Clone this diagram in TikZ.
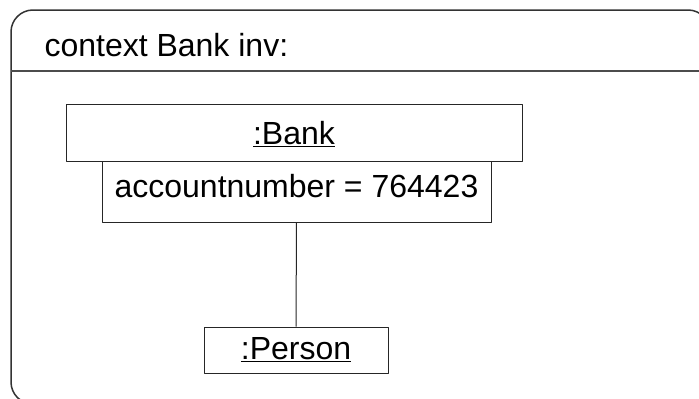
\documentclass[tikz,border=0pt]{standalone}
\usepackage{fontspec}
\setmainfont{Liberation Sans}
\begin{document}
\begin{tikzpicture}[x=1pt, y=-1pt, line join=round,
    every node/.style={font=\fontsize{32}{38}\selectfont},
    obj/.style={draw=black!85, line width=1pt, inner sep=0pt, text height=23pt}]
    \useasboundingbox (0,0) rectangle (699,399);
    \clip (0,0) rectangle (699,399);

    % frame of the constraint, it runs on past the page edge
    \draw [black!80, line width=1.5pt, rounded corners=22pt] (11,10) rectangle (710,404);
    \draw [black!70, line width=2pt] (11,71) -- (699,71);
    \node [anchor=base west] (Context) at (41,56) {context Bank inv:};

    \node [obj, text depth=0pt, minimum width=456pt, minimum height=57pt] (Bank) at (294,132.5) {\underline{:Bank}};
    \node [obj, text depth=12pt, minimum width=389pt, minimum height=61pt] (AccountNumber) at (296.5,191.5) {accountnumber = 764423};
    \node [obj, text depth=5pt, minimum width=184pt, minimum height=46pt] (Person) at (296,350) {\underline{:Person}};

    \path [draw=black!85, line width=1pt] (AccountNumber.south) edge (Person.north);
\end{tikzpicture}
\end{document}
